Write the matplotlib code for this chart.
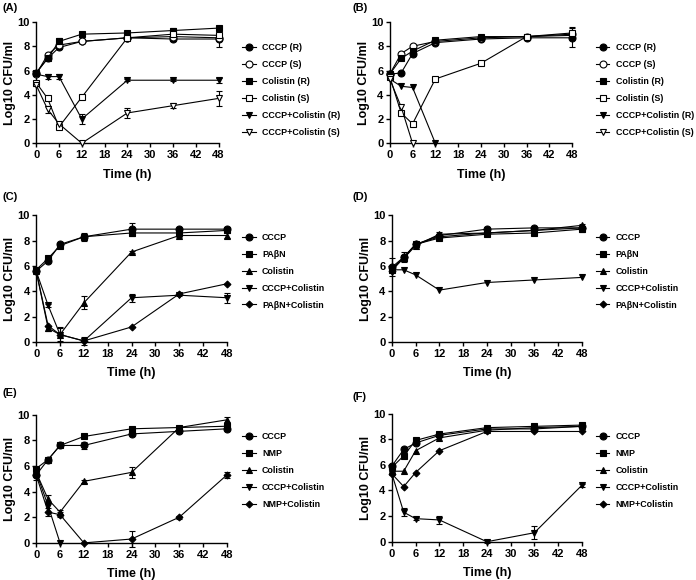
import numpy as np
import matplotlib
matplotlib.use("Agg")
import matplotlib.pyplot as plt

plt.rcParams['font.family'] = ['Liberation Sans', 'DejaVu Sans']
plt.rcParams['font.weight'] = 'bold'

time = [0, 3, 6, 12, 24, 36, 48]

# panel A
a_cccp_r = [5.8, 7.0, 7.9, 8.4, 8.7, 8.6, 8.6]
a_cccp_s = [5.7, 7.3, 8.1, 8.4, 8.7, 8.8, 8.7]
a_col_r = [5.8, 7.0, 8.4, 9.0, 9.1, 9.3, 9.5]
a_col_s = [5.0, 3.7, 1.35, 3.8, 8.7, 9.0, 8.9]
a_cc_r = [5.7, 5.5, 5.5, 2.0, 5.2, 5.2, 5.2]
a_cc_s = [4.8, 2.8, 1.6, 0.0, 2.5, 3.1, 3.7]
a_err_cccp_r = [0.1, 0.1, 0.1, 0.1, 0.1, 0.2, 0.7]
a_err_col_r = [0.1, 0.1, 0.3, 0.1, 0.2, 0.2, 0.1]
a_err_cc_r = [0.1, 0.2, 0.2, 0.4, 0.1, 0.1, 0.2]
a_err_cc_s = [0.1, 0.3, 0.1, 0.0, 0.4, 0.2, 0.6]

# panel B
b_cccp_r = [5.7, 5.8, 7.4, 8.3, 8.6, 8.7, 8.7]
b_cccp_s = [5.7, 7.4, 8.0, 8.4, 8.7, 8.8, 9.0]
b_col_r = [5.7, 7.0, 7.6, 8.5, 8.8, 8.8, 8.9]
b_col_s = [5.5, 2.5, 1.6, 5.3, 6.6, 8.8, 9.1]
b_cc_r = [5.3, 4.7, 4.6, 0.0]
b_cc_s = [5.3, 3.0, 0.0]
b_err_cccp_r = [0.1, 0.1, 0.1, 0.1, 0.1, 0.1, 0.8]
b_err_col_s = [0.1, 0.1, 0.1, 0.1, 0.1, 0.1, 0.5]

# panel C
c_cccp = [5.6, 6.4, 7.7, 8.3, 8.9, 8.9, 8.9]
c_pabn = [5.7, 6.6, 7.6, 8.3, 8.6, 8.6, 8.8]
c_col = [5.6, 1.1, 0.6, 3.1, 7.1, 8.4, 8.4]
c_cc = [5.6, 2.9, 0.6, 0.1, 3.5, 3.7, 3.5]
c_pc = [5.6, 1.3, 0.6, 0.1, 1.2, 3.8, 4.6]
c_err_cccp = [0.1, 0.1, 0.1, 0.3, 0.5, 0.1, 0.1]
c_err_col = [0.1, 0.2, 0.5, 0.5, 0.1, 0.1, 0.2]
c_err_cc = [0.1, 0.1, 0.6, 0.3, 0.3, 0.1, 0.4]

# panel D
d_cccp = [5.9, 6.7, 7.7, 8.4, 8.9, 9.0, 9.0]
d_pabn = [5.7, 6.6, 7.7, 8.2, 8.5, 8.6, 8.9]
d_col = [5.8, 6.6, 7.6, 8.5, 8.6, 8.8, 9.2]
d_cc = [5.7, 5.7, 5.3, 4.1, 4.7, 4.9, 5.1]
d_pc = [5.6, 6.7, 7.7, 8.3, 8.6, 8.8, 9.0]
d_err_cccp = [0.7, 0.4, 0.1, 0.3, 0.2, 0.1, 0.3]

# panel E
e_cccp = [5.3, 6.5, 7.6, 7.6, 8.5, 8.7, 8.9]
e_nmp = [5.8, 6.5, 7.6, 8.3, 8.9, 9.0, 9.1]
e_col = [5.5, 3.4, 2.4, 4.8, 5.5, 9.0, 9.6]
e_cc = [5.5, 2.9, 0.0]
e_nc = [5.3, 2.4, 2.2, 0.0, 0.3, 2.0, 5.3]
e_err_cccp = [0.4, 0.1, 0.1, 0.3, 0.1, 0.1, 0.1]
e_err_col = [0.1, 0.3, 0.2, 0.1, 0.4, 0.1, 0.2]
e_err_nc = [0.1, 0.3, 0.2, 0.0, 0.6, 0.1, 0.2]

# panel F
f_cccp = [5.9, 7.2, 7.7, 8.3, 8.8, 8.8, 9.0]
f_nmp = [5.8, 6.7, 7.9, 8.4, 8.9, 9.0, 9.1]
f_col = [5.5, 5.5, 7.1, 8.1, 8.7, 8.9, 9.0]
f_cc = [5.3, 2.3, 1.8, 1.7, 0.0, 0.7, 4.4]
f_nc = [5.3, 4.3, 5.4, 7.1, 8.6, 8.6, 8.6]
f_err_cccp = [0.1, 0.2, 0.1, 0.1, 0.1, 0.1, 0.1]
f_err_cc = [0.1, 0.3, 0.1, 0.3, 0.1, 0.5, 0.1]

fig = plt.figure(figsize=(6.96, 5.80), dpi=100)


def panel(rect, label, labelpos, series, legpos):
    ax = fig.add_axes(rect)
    handles = []
    for y, err, m, filled, lab in series:
        t = time[:len(y)]
        h, = ax.plot(t, y, marker=m, color='black', lw=0.8,
                     ms=5 if m != 'D' else 3.5,
                     mfc='black' if filled else 'white', mec='black', mew=0.8,
                     label=lab, clip_on=False, zorder=3)
        handles.append(h)
        if err is not None:
            ax.errorbar(t, y, yerr=err, fmt='none', ecolor='black', capsize=2.5,
                        elinewidth=0.8, capthick=0.8, clip_on=False, zorder=2)
    ax.set_xlim(0, 48)
    ax.set_ylim(0, 10)
    ax.set_xticks(range(0, 49, 6))
    ax.set_yticks(range(0, 11, 2))
    ax.spines['top'].set_visible(False)
    ax.spines['right'].set_visible(False)
    ax.tick_params(labelsize=8, width=1, length=3)
    ax.tick_params(axis='y', pad=1.5)
    ax.tick_params(axis='x', pad=2)
    for s in ['left', 'bottom']:
        ax.spines[s].set_linewidth(1)
    ax.set_xlabel('Time (h)', fontsize=9, fontweight='bold', labelpad=6)
    ax.set_ylabel('Log10 CFU/ml', fontsize=9, fontweight='bold', labelpad=1)
    fig.text(labelpos[0], labelpos[1], label, fontsize=8, fontweight='bold',
             ha='left', va='center')
    ax.legend(handles=handles, loc='upper left', bbox_to_anchor=legpos,
              bbox_transform=fig.transFigure, frameon=False, fontsize=6.4,
              handlelength=1.5, handletextpad=0.7, labelspacing=0.89,
              borderpad=0)
    return ax


panel([0.052, 0.753, 0.262, 0.209], '(A)', (0.004, 0.986), [
    (a_cccp_r, a_err_cccp_r, 'o', True, 'CCCP (R)'),
    (a_cccp_s, None, 'o', False, 'CCCP (S)'),
    (a_col_r, a_err_col_r, 's', True, 'Colistin (R)'),
    (a_col_s, None, 's', False, 'Colistin (S)'),
    (a_cc_r, a_err_cc_r, 'v', True, 'CCCP+Colistin (R)'),
    (a_cc_s, a_err_cc_s, 'v', False, 'CCCP+Colistin (S)'),
], (0.342, 0.933))

panel([0.560, 0.753, 0.262, 0.209], '(B)', (0.507, 0.986), [
    (b_cccp_r, b_err_cccp_r, 'o', True, 'CCCP (R)'),
    (b_cccp_s, None, 'o', False, 'CCCP (S)'),
    (b_col_r, None, 's', True, 'Colistin (R)'),
    (b_col_s, b_err_col_s, 's', False, 'Colistin (S)'),
    (b_cc_r, None, 'v', True, 'CCCP+Colistin (R)'),
    (b_cc_s, None, 'v', False, 'CCCP+Colistin (S)'),
], (0.850, 0.933))

panel([0.052, 0.410, 0.274, 0.219], '(C)', (0.004, 0.660), [
    (c_cccp, c_err_cccp, 'o', True, 'CCCP'),
    (c_pabn, None, 's', True, 'PA\u03b2N'),
    (c_col, c_err_col, '^', True, 'Colistin'),
    (c_cc, c_err_cc, 'v', True, 'CCCP+Colistin'),
    (c_pc, None, 'D', True, 'PA\u03b2N+Colistin'),
], (0.342, 0.606))

panel([0.563, 0.410, 0.273, 0.219], '(D)', (0.507, 0.660), [
    (d_cccp, d_err_cccp, 'o', True, 'CCCP'),
    (d_pabn, None, 's', True, 'PA\u03b2N'),
    (d_col, None, '^', True, 'Colistin'),
    (d_cc, None, 'v', True, 'CCCP+Colistin'),
    (d_pc, None, 'D', True, 'PA\u03b2N+Colistin'),
], (0.850, 0.606))

panel([0.052, 0.064, 0.274, 0.221], '(E)', (0.004, 0.322), [
    (e_cccp, e_err_cccp, 'o', True, 'CCCP'),
    (e_nmp, None, 's', True, 'NMP'),
    (e_col, e_err_col, '^', True, 'Colistin'),
    (e_cc, None, 'v', True, 'CCCP+Colistin'),
    (e_nc, e_err_nc, 'D', True, 'NMP+Colistin'),
], (0.342, 0.262))

panel([0.563, 0.066, 0.273, 0.221], '(F)', (0.507, 0.316), [
    (f_cccp, f_err_cccp, 'o', True, 'CCCP'),
    (f_nmp, None, 's', True, 'NMP'),
    (f_col, None, '^', True, 'Colistin'),
    (f_cc, f_err_cc, 'v', True, 'CCCP+Colistin'),
    (f_nc, None, 'D', True, 'NMP+Colistin'),
], (0.850, 0.262))

fig.savefig('out.png', dpi=100)
